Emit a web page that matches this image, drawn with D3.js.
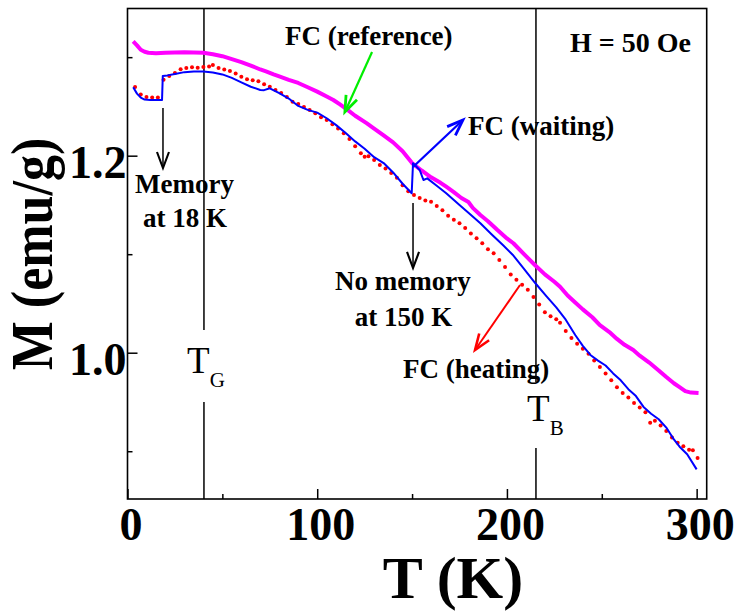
<!DOCTYPE html>
<html>
<head>
<meta charset="utf-8">
<script src="https://cdn.jsdelivr.net/npm/d3@7"></script>
<style>
  body { margin: 0; background: #fff; }
  svg { display: block; }
</style>
</head>
<body>
<div id="chart"></div>
<script>
// FC curves, [T (K), M (emu/g)]
var fcReference = [
  [3, 1.316], [5, 1.312], [7, 1.3075], [9, 1.3055], [11, 1.3045], [15, 1.304], [20, 1.3045],
  [25, 1.3048], [30, 1.305], [35, 1.3048], [40, 1.3045], [45, 1.303], [50, 1.301], [55, 1.298],
  [60, 1.295], [65, 1.2915], [70, 1.2875], [73, 1.2855], [77, 1.2825], [80, 1.2805], [85, 1.277],
  [90, 1.2738], [95, 1.2695], [100, 1.265], [105, 1.26], [108.5, 1.2565], [112, 1.252],
  [116, 1.2465], [120, 1.2405], [126, 1.233], [130, 1.2275], [135, 1.2205], [140, 1.2135],
  [145, 1.2045], [150, 1.1925], [155, 1.185], [160, 1.178], [165, 1.1725], [168, 1.1685],
  [172, 1.163], [176, 1.157], [179.7, 1.153], [182, 1.147], [186, 1.1398], [190, 1.1335],
  [195, 1.1245], [200, 1.116], [203.4, 1.1111], [209, 1.1], [215, 1.0885], [220, 1.0795],
  [225, 1.072], [228, 1.067], [232, 1.058], [236, 1.051], [240, 1.044], [245, 1.036],
  [249, 1.028], [254, 1.021], [258, 1.014], [262, 1.008], [266.6, 1.0027], [270, 0.997],
  [275, 0.99], [280, 0.982], [284, 0.9753], [288, 0.969], [291, 0.965], [294, 0.961],
  [297, 0.9595], [301, 0.959]
];

var fcWaiting = [
  [3, 1.2694], [5, 1.263], [7, 1.259], [9, 1.257], [12, 1.2566], [15, 1.2566], [18.2, 1.2566],
  [18.6, 1.281], [21, 1.2815], [25, 1.283], [30, 1.2848], [35, 1.2855], [40, 1.2855],
  [45, 1.2845], [50, 1.2825], [55, 1.279], [60, 1.2745], [65, 1.27], [70, 1.2667],
  [72, 1.2665], [75, 1.2684], [80, 1.2635], [85, 1.258], [90, 1.2505], [95, 1.2465],
  [100, 1.2437], [105, 1.238], [110, 1.231], [115, 1.223], [120, 1.2145], [125, 1.207],
  [130, 1.1985], [135, 1.1925], [140, 1.183], [145, 1.1715], [149.8, 1.1618], [150.5, 1.1923],
  [154, 1.1855], [156, 1.1753], [158, 1.177], [163, 1.1695], [168, 1.1618], [175, 1.15],
  [180, 1.1415], [186, 1.1314], [192, 1.12], [198, 1.109], [203, 1.0995], [209, 1.085],
  [215, 1.0705], [221, 1.0569], [226, 1.046], [231, 1.0335], [236, 1.018], [240, 1.007],
  [244, 0.9977], [248, 0.992], [252, 0.987], [256, 0.979], [260, 0.972], [264, 0.963],
  [268, 0.956], [272, 0.945], [276, 0.938], [280, 0.9325], [284, 0.924], [286, 0.918],
  [288, 0.912], [291, 0.9046], [295, 0.897], [300, 0.8816]
];

var fcHeating = [
  [4, 1.2697], [7, 1.262], [10, 1.2595], [13, 1.259], [16, 1.259], [19, 1.277], [22, 1.281],
  [25, 1.284], [28, 1.2877], [31, 1.289], [34, 1.2897], [37, 1.2893], [40, 1.29], [43, 1.2905],
  [45, 1.292], [48, 1.289], [51, 1.2875], [54, 1.286], [57, 1.2835], [60, 1.28], [63, 1.2775],
  [66, 1.2765], [69, 1.2755], [72, 1.2725], [75, 1.27], [78, 1.2667], [81, 1.2635],
  [84, 1.2595], [87, 1.2548], [90, 1.2525], [93, 1.2495], [96, 1.2464], [99, 1.243],
  [102, 1.239], [105, 1.2363], [108, 1.232], [111, 1.2275], [114, 1.2227], [117, 1.217],
  [120, 1.2095], [123, 1.2024], [125, 1.199], [127, 1.1995], [130, 1.1955], [133, 1.1906],
  [136, 1.187], [139, 1.1825], [142, 1.1775], [145, 1.17], [148, 1.164], [151, 1.16],
  [154, 1.157], [157, 1.1545], [160, 1.1533], [163, 1.149], [166, 1.1445], [169, 1.139],
  [172, 1.135], [175, 1.1314], [178, 1.1265], [181, 1.121], [184, 1.1161], [187, 1.111],
  [190, 1.105], [193, 1.1009], [196, 1.094], [199, 1.087], [202, 1.0795], [205, 1.074],
  [208, 1.069], [211, 1.064], [214, 1.0566], [217, 1.049], [220, 1.041], [223, 1.037],
  [226, 1.034], [228, 1.0305], [231, 1.022], [234, 1.015], [237, 1.009], [240, 1.004],
  [243, 0.999], [246, 0.992], [249, 0.9855], [252, 0.979], [255, 0.972], [258, 0.965],
  [261, 0.959], [264, 0.9545], [267, 0.949], [270, 0.9445], [273, 0.9395], [275.5, 0.929],
  [278, 0.931], [281, 0.926], [284, 0.9205], [287, 0.914], [290, 0.9085], [293, 0.905],
  [296, 0.9015], [298, 0.901], [300.5, 0.893]
];

var xMajor = [0, 100, 200, 300],
    xMinor = [50, 150, 250],
    yMajor = [1.0, 1.2],
    yMinor = [0.9, 1.1, 1.3];

var tG = 40.3, tB = 215.3;

var width = 737, height = 612,
    margin = {top: 8.5, right: 30.3, bottom: 113, left: 127.5},
    innerWidth = width - margin.left - margin.right,
    innerHeight = height - margin.top - margin.bottom;

var serif = "'Liberation Serif', 'Times New Roman', serif";

var x = d3.scaleLinear().domain([0, 305.3]).range([0, innerWidth]),
    y = d3.scaleLinear().domain([0.8515, 1.3494]).range([innerHeight, 0]);

var svg = d3.select("#chart").append("svg")
    .attr("width", width)
    .attr("height", height)
    .style("background", "#fff");

var g = svg.append("g")
    .attr("transform", "translate(" + margin.left + "," + margin.top + ")");

// axes: ticks point inward, labels placed by hand below
var xAxis = g.append("g")
    .attr("transform", "translate(0," + innerHeight + ")")
    .call(d3.axisBottom(x).tickValues(xMajor).tickSizeInner(-10).tickSizeOuter(0).tickFormat(d3.format("d")));
var xMinorAxis = g.append("g")
    .attr("transform", "translate(0," + innerHeight + ")")
    .call(d3.axisBottom(x).tickValues(xMinor).tickSizeInner(-5).tickSizeOuter(0));

var yAxis = g.append("g")
    .call(d3.axisLeft(y).tickValues(yMajor).tickSizeInner(-10).tickSizeOuter(0).tickFormat(d3.format(".1f")));
var yMinorAxis = g.append("g")
    .call(d3.axisLeft(y).tickValues(yMinor).tickSizeInner(-5).tickSizeOuter(0));

xMinorAxis.selectAll("text").remove();
yMinorAxis.selectAll("text").remove();
g.selectAll(".domain").remove();
g.selectAll(".tick line").attr("stroke", "#000").attr("stroke-width", 1.5);

xAxis.selectAll(".tick text")
    .attr("y", 41).attr("dy", null).attr("dx", 3)
    .attr("fill", "#000")
    .style("font-family", serif).style("font-size", "46px").style("font-weight", "bold");

yAxis.selectAll(".tick text")
    .attr("x", -1).attr("y", 22).attr("dy", null)
    .attr("fill", "#000")
    .style("font-family", serif).style("font-size", "46px").style("font-weight", "bold");

// frame
g.append("rect")
    .attr("width", innerWidth)
    .attr("height", innerHeight)
    .attr("fill", "none")
    .attr("stroke", "#000")
    .attr("stroke-width", 1.6);

// T_G and T_B markers, with a gap for their labels
var markers = [
  {t: tG, gap: [1.0231, 0.950]},
  {t: tB, gap: [0.9703, 0.9033]}
];
markers.forEach(function (m) {
  g.append("line")
      .attr("x1", x(m.t)).attr("x2", x(m.t))
      .attr("y1", 0).attr("y2", y(m.gap[0]))
      .attr("stroke", "#000").attr("stroke-width", 1.5);
  g.append("line")
      .attr("x1", x(m.t)).attr("x2", x(m.t))
      .attr("y1", y(m.gap[1])).attr("y2", innerHeight)
      .attr("stroke", "#000").attr("stroke-width", 1.5);
});

var line = d3.line()
    .x(function (d) { return x(d[0]); })
    .y(function (d) { return y(d[1]); });

g.selectAll(".dot")
    .data(fcHeating)
  .enter().append("circle")
    .attr("class", "dot")
    .attr("cx", function (d) { return x(d[0]); })
    .attr("cy", function (d) { return y(d[1]); })
    .attr("r", 2)
    .attr("fill", "#ff0000");

g.append("path")
    .datum(fcReference)
    .attr("d", line)
    .attr("fill", "none")
    .attr("stroke", "#ff00ff")
    .attr("stroke-width", 4)
    .attr("stroke-linejoin", "round");

g.append("path")
    .datum(fcWaiting)
    .attr("d", line)
    .attr("fill", "none")
    .attr("stroke", "#0000ff")
    .attr("stroke-width", 2)
    .attr("stroke-linejoin", "round");

// annotations, anchored in data units
var notes = [
  {text: "FC (reference)", t: 83.0, m: 1.3124, size: 27},
  {text: "H = 50 Oe", t: 233.2, m: 1.3053, size: 28},
  {text: "FC (waiting)", t: 179.5, m: 1.2210, size: 27},
  {text: "Memory", t: 3.95, m: 1.1621, size: 27},
  {text: "at 18 K", t: 8.2, m: 1.1276, size: 27},
  {text: "No memory", t: 109.4, m: 1.0636, size: 27},
  {text: "at 150 K", t: 119.8, m: 1.0271, size: 27},
  {text: "FC (heating)", t: 145.2, m: 0.9743, size: 27}
];
g.selectAll(".note")
    .data(notes)
  .enter().append("text")
    .attr("class", "note")
    .attr("x", function (d) { return x(d.t); })
    .attr("y", function (d) { return y(d.m); })
    .style("font-family", serif)
    .style("font-weight", "bold")
    .style("font-size", function (d) { return d.size + "px"; })
    .text(function (d) { return d.text; });

var symbols = [
  {main: "T", sub: "G", t: 31.4, m: 0.9794},
  {main: "T", sub: "B", t: 210.6, m: 0.9307}
];
symbols.forEach(function (s) {
  var txt = g.append("text")
      .attr("x", x(s.t))
      .attr("y", y(s.m))
      .style("font-family", serif)
      .style("font-size", "37px");
  txt.append("tspan").text(s.main);
  txt.append("tspan")
      .attr("dx", 0).attr("dy", 14)
      .style("font-size", "21px")
      .text(s.sub);
});

var arrows = [
  {from: [18.7, 1.2484], to: [18.7, 1.1875], color: "#000", w: 1.5},
  {from: [150.5, 1.152], to: [150.5, 1.086], color: "#000", w: 1.5},
  {from: [128.9, 1.3052], to: [114.6, 1.2444], color: "#00ee00", w: 2.2},
  {from: [150.5, 1.1885], to: [176.8, 1.2362], color: "#0000ff", w: 2.2},
  {from: [206.9, 1.0687], to: [183.2, 1.0027], color: "#ff0000", w: 2}
];
arrows.forEach(function (a) {
  var x0 = x(a.from[0]), y0 = y(a.from[1]),
      x1 = x(a.to[0]), y1 = y(a.to[1]),
      ang = Math.atan2(y1 - y0, x1 - x0),
      len = 16, half = 6,
      bx = x1 - len * Math.cos(ang), by = y1 - len * Math.sin(ang),
      px = -Math.sin(ang) * half, py = Math.cos(ang) * half;
  g.append("line")
      .attr("x1", x0).attr("y1", y0).attr("x2", x1).attr("y2", y1)
      .attr("stroke", a.color).attr("stroke-width", a.w);
  g.append("path")
      .attr("d", "M" + (bx + px) + "," + (by + py) + "L" + x1 + "," + y1 + "L" + (bx - px) + "," + (by - py))
      .attr("fill", "none")
      .attr("stroke", a.color)
      .attr("stroke-width", a.w + 0.6);
});

// axis titles
svg.append("text")
    .attr("x", 453)
    .attr("y", 598)
    .attr("text-anchor", "middle")
    .style("font-family", serif).style("font-weight", "bold").style("font-size", "60px")
    .text("T (K)");

svg.append("text")
    .attr("transform", "translate(52,254) rotate(-90) scale(1,1.15)")
    .attr("text-anchor", "middle")
    .style("font-family", serif).style("font-weight", "bold").style("font-size", "52px")
    .text("M (emu/g)");
</script>
</body>
</html>
